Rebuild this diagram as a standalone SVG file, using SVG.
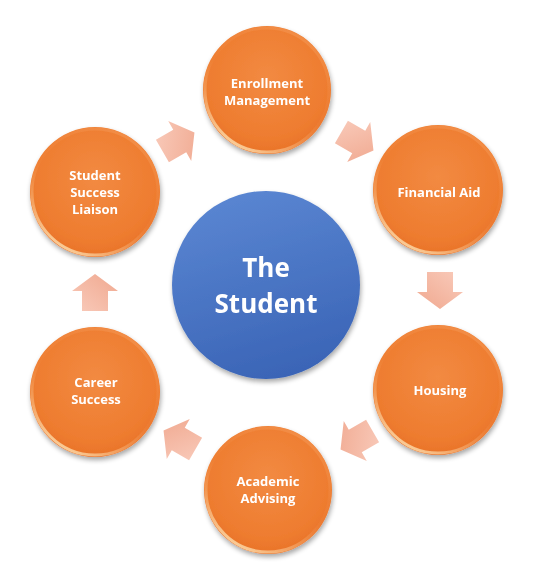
<svg xmlns="http://www.w3.org/2000/svg" width="552" height="575" viewBox="0 0 552 575">
<defs>
<radialGradient id="og" cx="0.5" cy="0.4" r="0.6">
<stop offset="0" stop-color="#f28a42"/>
<stop offset="0.8" stop-color="#ee7c2f"/>
<stop offset="1" stop-color="#e9732a"/>
</radialGradient>
<linearGradient id="rim" x1="0.8" y1="0" x2="0.2" y2="1">
<stop offset="0" stop-color="#f6a060" stop-opacity="0.5"/>
<stop offset="0.5" stop-color="#f08840" stop-opacity="0.2"/>
<stop offset="1" stop-color="#fde0b0" stop-opacity="1"/>
</linearGradient>
<linearGradient id="gloss" x1="0" y1="0" x2="0" y2="1">
<stop offset="0" stop-color="#ffffff" stop-opacity="0.35"/>
<stop offset="1" stop-color="#ffffff" stop-opacity="0"/>
</linearGradient>
<linearGradient id="bg" x1="0.3" y1="0" x2="0.6" y2="1">
<stop offset="0" stop-color="#5a86d2"/>
<stop offset="1" stop-color="#3a64b6"/>
</linearGradient>
<linearGradient id="ag" x1="0" y1="0" x2="1" y2="1">
<stop offset="0" stop-color="#f9cbbb"/>
<stop offset="1" stop-color="#f0a88f"/>
</linearGradient>
<filter id="sh" x="-20%" y="-20%" width="140%" height="140%">
<feGaussianBlur in="SourceAlpha" stdDeviation="2.5"/>
<feOffset dx="1" dy="3" result="b"/>
<feComponentTransfer><feFuncA type="linear" slope="0.35"/></feComponentTransfer>
<feMerge><feMergeNode/><feMergeNode in="SourceGraphic"/></feMerge>
</filter>
<g id="arrow">
<path d="M-18,-13 L2,-13 L2,-23 L19,0 L2,23 L2,13 L-18,13 Z" fill="url(#ag)"/>
</g>
</defs>
<style>
.ot{font-family:"Open Sans","Liberation Sans",sans-serif;font-weight:bold;font-size:13px;fill:#ffffff;text-anchor:middle}
.ct{font-family:"Open Sans","Liberation Sans",sans-serif;font-weight:bold;font-size:26px;fill:#ffffff;text-anchor:middle}
.oc{fill:url(#og)}
.rm{fill:none;stroke:url(#rim);stroke-width:3}
</style>
<rect width="552" height="575" fill="#ffffff"/>
<g id="connectors">
<use href="#arrow" transform="translate(178,142) rotate(-30)"/>
<use href="#arrow" transform="translate(357,141) rotate(30)"/>
<use href="#arrow" transform="translate(440,290) rotate(90)"/>
<use href="#arrow" transform="translate(357,440) rotate(150)"/>
<use href="#arrow" transform="translate(180,440) rotate(210)"/>
<use href="#arrow" transform="translate(95,293) rotate(270)"/>
</g>
<g id="center" filter="url(#sh)">
<circle cx="266" cy="285" r="94" fill="url(#bg)"/>
<text class="ct" x="266" y="277">The</text>
<text class="ct" x="266" y="313">Student</text>
</g>
<g id="enrollment" filter="url(#sh)">
<circle class="oc" cx="267" cy="90" r="64"/>
<circle class="rm" cx="267" cy="90" r="62"/>
<text class="ot" x="267" y="88">Enrollment</text>
<text class="ot" x="267" y="105">Management</text>
</g>
<g id="financial-aid" filter="url(#sh)">
<circle class="oc" cx="438" cy="190" r="65"/>
<circle class="rm" cx="438" cy="190" r="63"/>
<text class="ot" x="439" y="197">Financial Aid</text>
</g>
<g id="housing" filter="url(#sh)">
<circle class="oc" cx="438" cy="390" r="65"/>
<circle class="rm" cx="438" cy="390" r="63"/>
<text class="ot" x="440" y="395">Housing</text>
</g>
<g id="academic-advising" filter="url(#sh)">
<circle class="oc" cx="268" cy="490" r="64"/>
<circle class="rm" cx="268" cy="490" r="62"/>
<text class="ot" x="268" y="486">Academic</text>
<text class="ot" x="268" y="503">Advising</text>
</g>
<g id="career-success" filter="url(#sh)">
<circle class="oc" cx="95" cy="392" r="65"/>
<circle class="rm" cx="95" cy="392" r="63"/>
<text class="ot" x="96" y="387">Career</text>
<text class="ot" x="96" y="404">Success</text>
</g>
<g id="student-success-liaison" filter="url(#sh)">
<circle class="oc" cx="95" cy="192" r="65"/>
<circle class="rm" cx="95" cy="192" r="63"/>
<text class="ot" x="95" y="180">Student</text>
<text class="ot" x="95" y="197">Success</text>
<text class="ot" x="95" y="214">Liaison</text>
</g>
</svg>
